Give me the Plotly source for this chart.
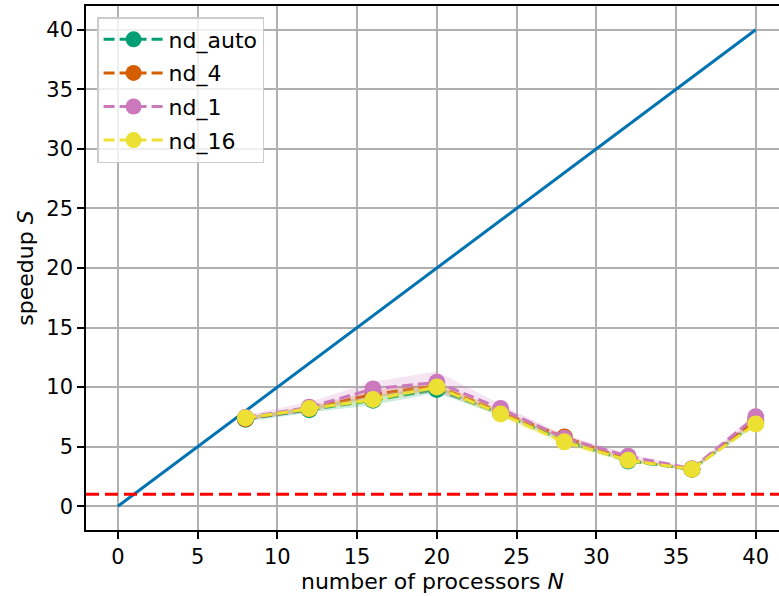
import plotly.graph_objects as go

# Processor counts at which the speedup was measured
N = [8, 12, 16, 20, 24, 28, 32, 36, 40]

# Mean speedup per configuration
nd_auto = [7.3, 8.1, 8.9, 9.8, 7.8, 5.5, 3.8, 3.1, 7.0]
nd_4 = [7.35, 8.2, 9.4, 10.1, 7.9, 5.8, 3.9, 3.1, 7.2]
nd_1 = [7.45, 8.3, 9.85, 10.4, 8.2, 5.7, 4.2, 3.15, 7.5]
nd_16 = [7.4, 8.2, 8.95, 10.0, 7.75, 5.4, 3.85, 3.1, 6.9]

# Standard deviation of the speedup per configuration
sd_auto = [0.2, 0.25, 0.4, 0.3, 0.2, 0.2, 0.1, 0.1, 0.2]
sd_4 = [0.15, 0.2, 0.3, 0.3, 0.2, 0.2, 0.15, 0.1, 0.2]
sd_1 = [0.2, 0.45, 0.6, 0.9, 0.35, 0.3, 0.2, 0.1, 0.3]
sd_16 = [0.15, 0.2, 0.3, 0.3, 0.3, 0.3, 0.2, 0.1, 0.2]

# Ideal (linear) speedup and the break-even level
ideal_N = [0, 40]
ideal_S = [0, 40]
break_even = 1

series = [
    ("nd_auto", nd_auto, sd_auto, (2, 158, 115)),
    ("nd_4", nd_4, sd_4, (213, 94, 0)),
    ("nd_1", nd_1, sd_1, (204, 120, 188)),
    ("nd_16", nd_16, sd_16, (236, 225, 51)),
]

FONT = "DejaVu Sans"
FS = 21
FS_TITLE = 22
fig = go.Figure()

# Ideal speedup line
fig.add_trace(go.Scatter(
    x=ideal_N, y=ideal_S, mode="lines",
    line=dict(color="#0173b2", width=3),
    showlegend=False, hoverinfo="skip",
))

for name, mean, sd, (r, g, b) in series:
    lo = [m - s for m, s in zip(mean, sd)]
    hi = [m + s for m, s in zip(mean, sd)]
    # shaded +/- one standard deviation band
    fig.add_trace(go.Scatter(
        x=N + N[::-1], y=hi + lo[::-1], mode="lines",
        fill="toself", fillcolor=f"rgba({r},{g},{b},0.2)",
        line=dict(width=0), showlegend=False, hoverinfo="skip",
    ))
    fig.add_trace(go.Scatter(
        x=N, y=mean, mode="lines+markers", name=name, legendgroup=name,
        line=dict(color=f"rgb({r},{g},{b})", width=3, dash="11px,5px"),
        marker=dict(color=f"rgb({r},{g},{b})", size=17),
    ))

# Break-even line across the full axis width
fig.add_shape(
    type="line", xref="x domain", yref="y",
    x0=0, x1=1, y0=break_even, y1=break_even,
    line=dict(color="#ff0000", width=3, dash="13px,6px"),
)

axis_common = dict(
    showgrid=True, gridcolor="#b0b0b0", gridwidth=1.6,
    zeroline=False, showline=True, linecolor="black", linewidth=1.6,
    ticks="outside", ticklen=7, tickwidth=1.6, tickcolor="black",
    tickfont=dict(family=FONT, size=FS, color="black"),
)

fig.update_xaxes(
    range=[-2, 41.46], tickmode="array", tickvals=[0, 5, 10, 15, 20, 25, 30, 35, 40],
    mirror=True,
    title=dict(text="number of processors <i>N</i>", font=dict(family=FONT, size=FS_TITLE, color="black"), standoff=6),
    **axis_common,
)
fig.update_yaxes(
    range=[-2, 42], tickmode="array", tickvals=[0, 5, 10, 15, 20, 25, 30, 35, 40],
    title=dict(text="speedup <i>S</i>", font=dict(family=FONT, size=FS_TITLE, color="black"), standoff=7),
    **axis_common,
)

fig.update_layout(
    width=779, height=596,
    margin=dict(l=86, r=0, t=6, b=66),
    plot_bgcolor="white", paper_bgcolor="white",
    font=dict(family=FONT, size=FS, color="black"),
    legend=dict(
        x=0.016, y=0.979, xanchor="left", yanchor="top",
        bgcolor="rgba(255,255,255,0.8)", bordercolor="#cccccc", borderwidth=1.5,
        font=dict(family=FONT, size=FS_TITLE, color="black"),
        tracegroupgap=2, itemwidth=60,
    ),
)

fig.write_html("out.html")
